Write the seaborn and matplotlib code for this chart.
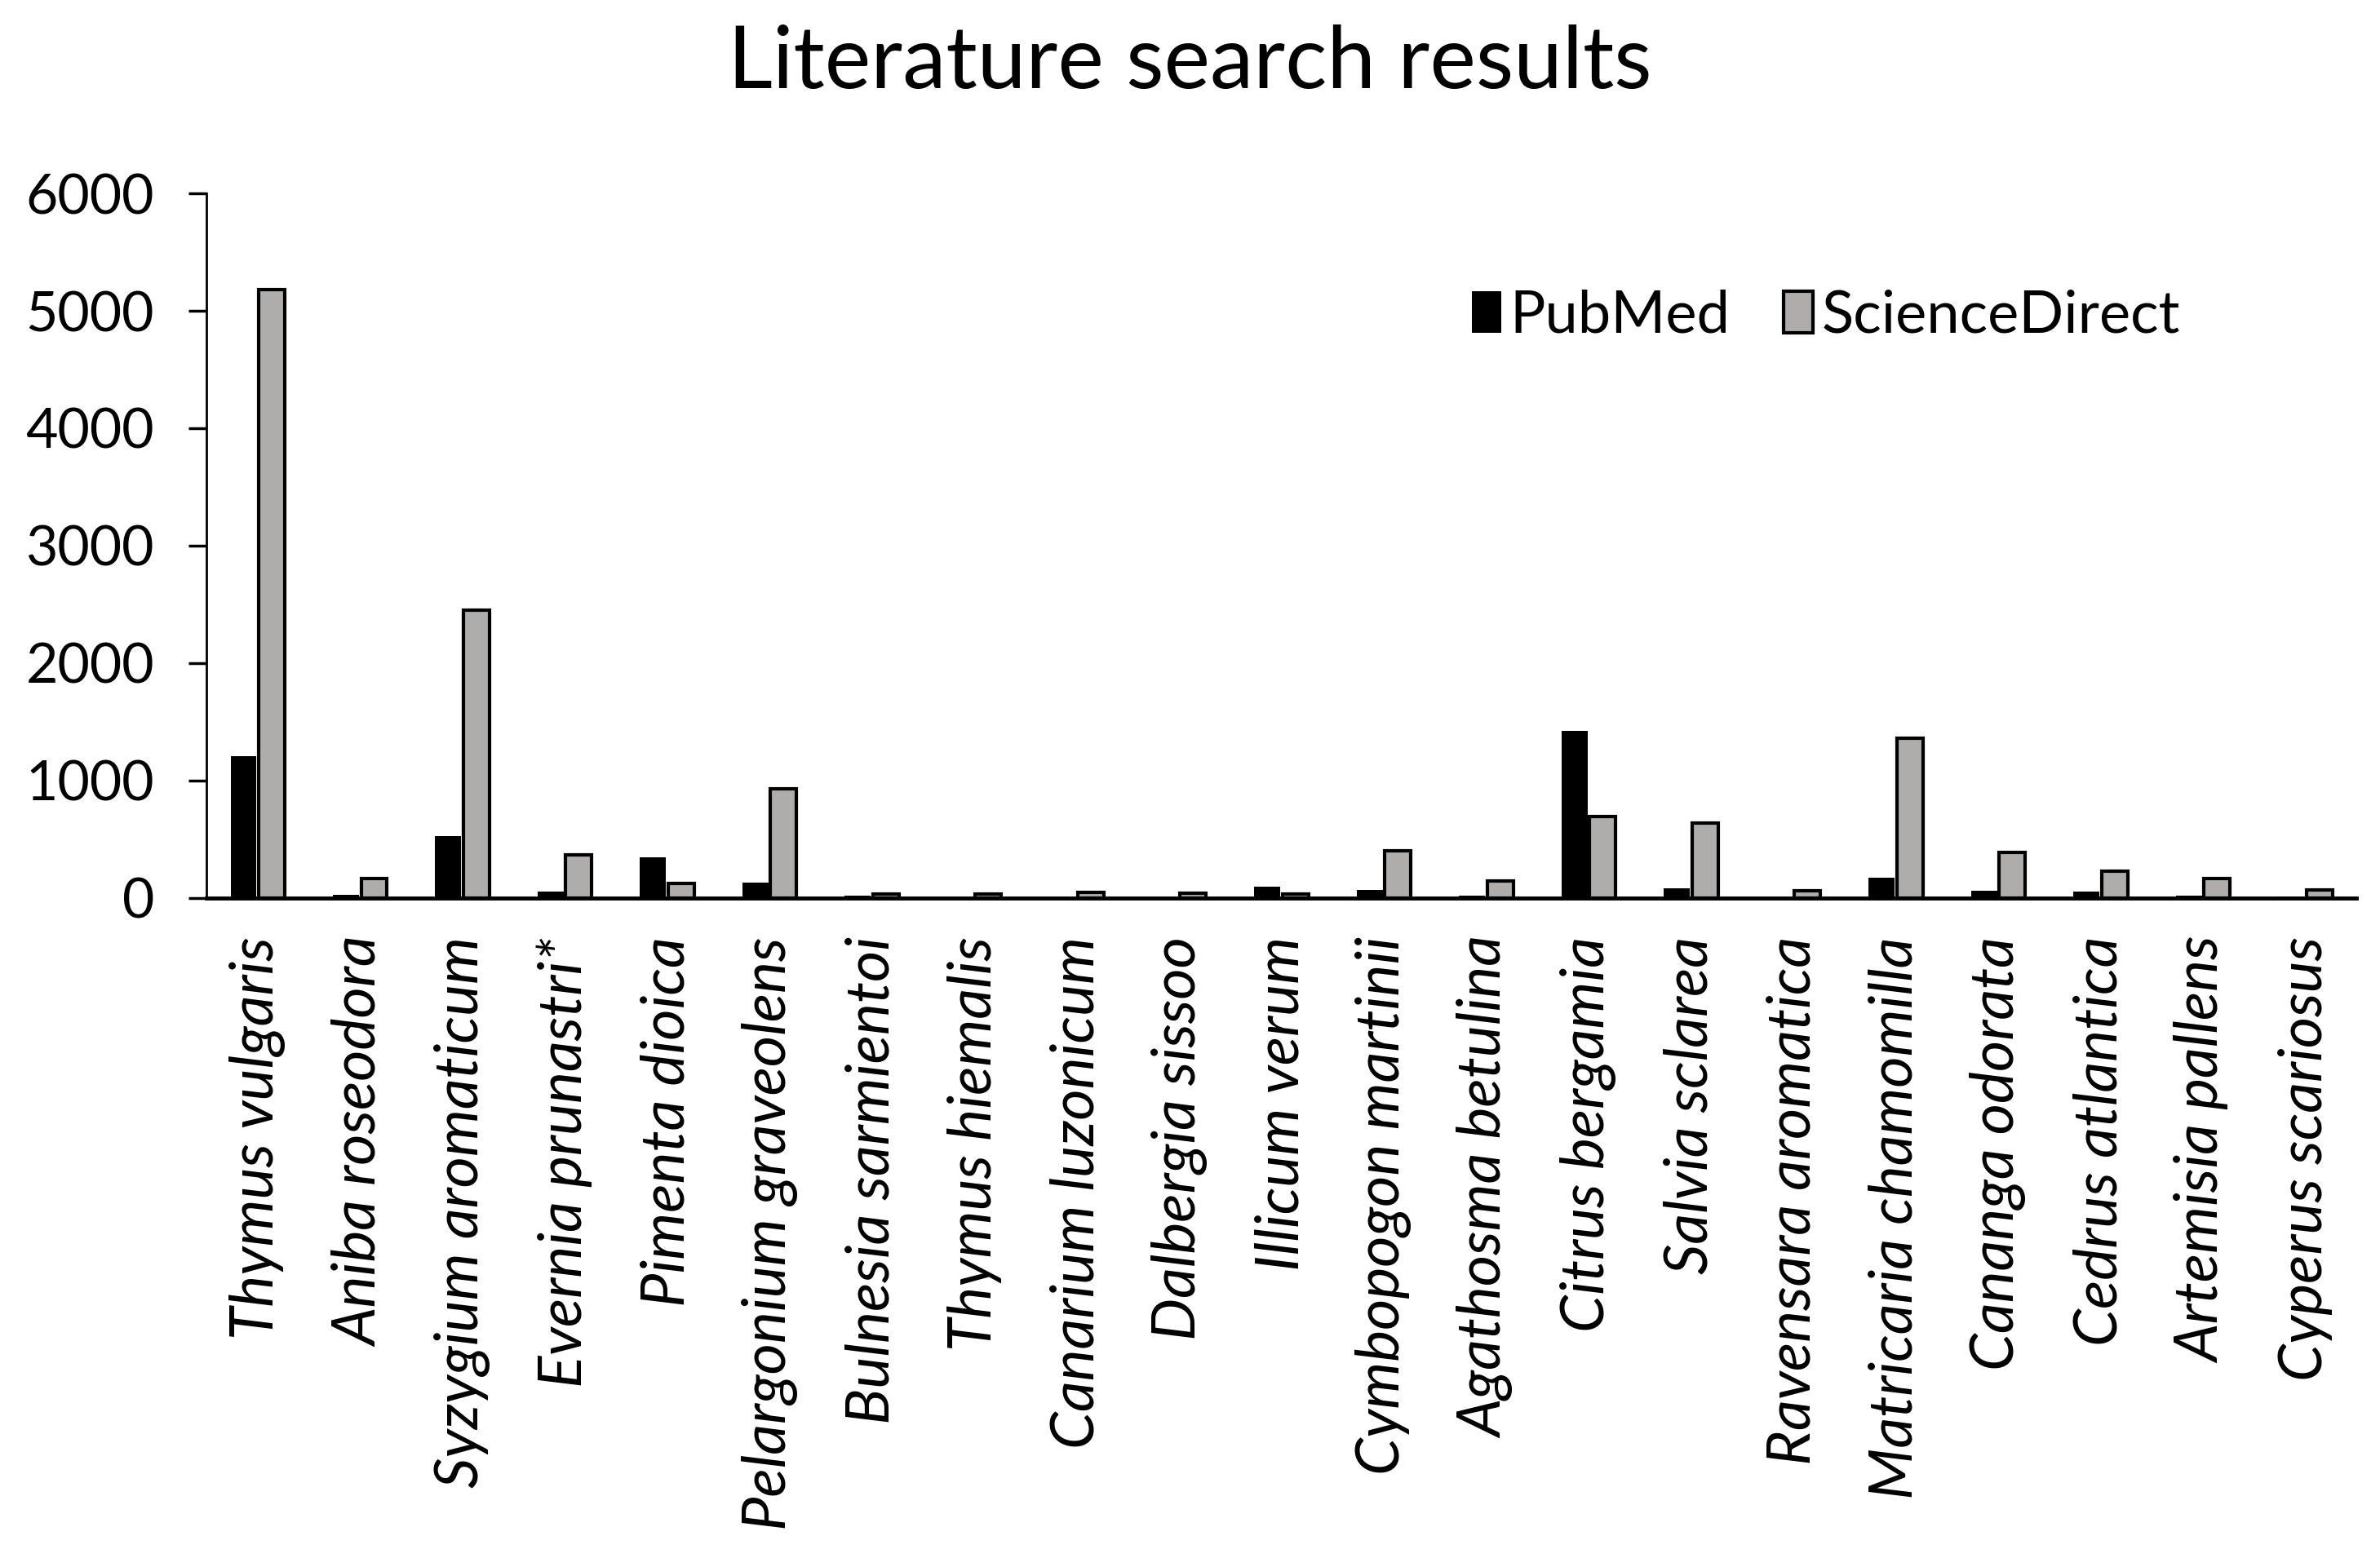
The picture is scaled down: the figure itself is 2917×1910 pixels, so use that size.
import matplotlib
matplotlib.use("Agg")
import matplotlib.pyplot as plt
import seaborn as sns
import pandas as pd
from matplotlib.patches import Patch

# Values
species = ["Thymus vulgaris", "Aniba roseodora", "Syzygium aromaticum", "Evernia prunastri*",
           "Pimenta dioica", "Pelargonium graveolens", "Bulnesia sarmientoi", "Thymus hiemalis",
           "Canarium luzonicum", "Dalbergia sissoo", "Illicum verum", "Cymbopogon martinii",
           "Agathosma betulina", "Citrus bergamia", "Salvia sclarea", "Ravensara aromatica",
           "Matricaria chamomilla", "Cananga odorata", "Cedrus atlantica", "Artemisia pallens",
           "Cyperus scariosus"]
pubmed = [1210, 25, 530, 55, 350, 130, 20, 0, 0, 0, 95, 70, 20, 1425, 85, 0, 175, 62, 56, 20, 14]
sciencedirect = [5180, 165, 2450, 365, 125, 930, 35, 35, 45, 40, 35, 405, 148, 695, 640, 62, 1360, 390, 230, 167, 70]

df = pd.DataFrame({
    "species": species * 2,
    "count": pubmed + sciencedirect,
    "source": ["PubMed"] * len(species) + ["ScienceDirect"] * len(species),
})

sns.set_style("white")
plt.rcParams["font.family"] = ["Lato", "DejaVu Sans"]
plt.rcParams["text.color"] = "black"
plt.rcParams["xtick.color"] = "black"
plt.rcParams["ytick.color"] = "black"

black = "#000000"
grey = "#b0acab"

fig = plt.figure(figsize=(29.17, 19.10), dpi=100)
ax = fig.add_axes([0.0867, 0.4236, 0.9034, 0.4523])

sns.barplot(data=df, x="species", y="count", hue="source",
            palette={"PubMed": black, "ScienceDirect": grey},
            width=0.55, gap=0.08, ax=ax, legend=False)

# black bars have no outline, grey bars get a thick black border
n = len(species)
for i, bar in enumerate(ax.patches[:2 * n]):
    bar.set_edgecolor("black")
    bar.set_linewidth(0 if i < n else 3)

ax.set_xlim(-0.5, n - 0.5)
ax.set_ylim(0, 6000)
ax.set_yticks(range(0, 6001, 1000))
ax.set_xlabel("")
ax.set_ylabel("")

for side in ["top", "right"]:
    ax.spines[side].set_visible(False)
for side in ["left", "bottom"]:
    ax.spines[side].set_color("black")
ax.spines["left"].set_linewidth(2)
ax.spines["bottom"].set_linewidth(3.5)

ax.tick_params(axis="y", direction="out", length=16, width=2.5, labelsize=49, pad=30, left=True)
ax.tick_params(axis="x", length=0, labelsize=53, pad=34)
ax.set_xticks(range(n))
ax.set_xticklabels(species, rotation=90, fontstyle="italic")

handles = [Patch(facecolor=black, edgecolor=black, linewidth=0),
           Patch(facecolor=grey, edgecolor="black", linewidth=3)]
ax.legend(handles, ["PubMed", "ScienceDirect"], loc="center right",
          bbox_to_anchor=(0.918, 0.826), ncol=2, frameon=False, fontsize=52,
          borderpad=0, borderaxespad=0,
          handlelength=0.5, handleheight=0.7, handletextpad=0.15, columnspacing=0.9)

fig.text(0.5, 0.959, "Literature search results", fontsize=77, ha="center", va="center")

fig.savefig("out.png", dpi=100, facecolor="white")
